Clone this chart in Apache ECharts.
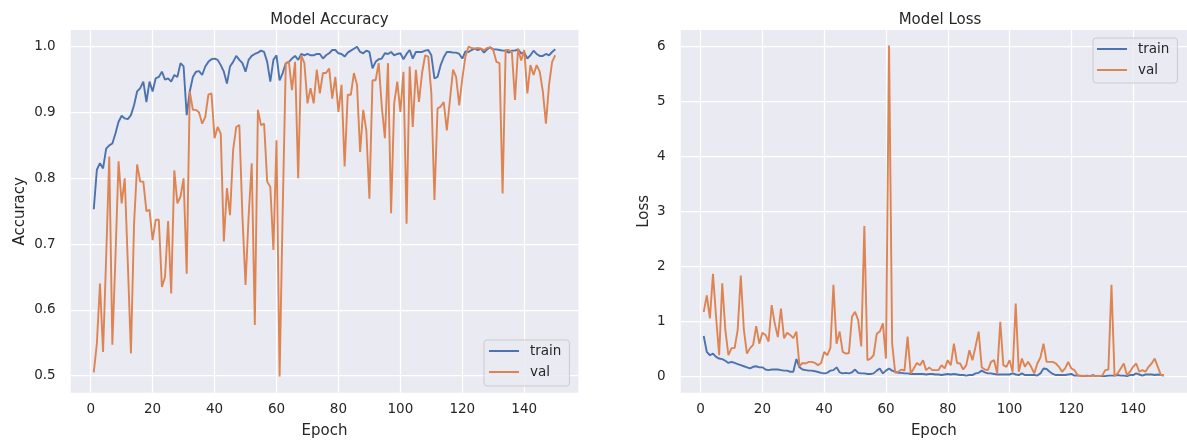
<!DOCTYPE html>
<html>
<head>
<meta charset="utf-8">
<script src="https://cdn.jsdelivr.net/npm/echarts@6/dist/echarts.min.js"></script>
<style>
  html, body { margin: 0; padding: 0; background: #ffffff; }
  #chart { width: 1187px; height: 444px; }
</style>
</head>
<body>
<div id="chart"></div>
<script>
// Training history over 150 epochs
const epochs = Array.from({ length: 150 }, (_, i) => i + 1);

const accTrain = [
  0.753, 0.813, 0.823, 0.815, 0.845, 0.850, 0.853, 0.868, 0.886, 0.895,
  0.891, 0.890, 0.896, 0.911, 0.932, 0.937, 0.947, 0.916, 0.947, 0.932,
  0.952, 0.954, 0.962, 0.950, 0.952, 0.947, 0.957, 0.954, 0.975, 0.970,
  0.896, 0.932, 0.954, 0.962, 0.963, 0.957, 0.970, 0.977, 0.981, 0.982,
  0.980, 0.972, 0.962, 0.944, 0.970, 0.977, 0.986, 0.980, 0.975, 0.962,
  0.980, 0.986, 0.989, 0.991, 0.994, 0.992, 0.977, 0.947, 0.980, 0.987,
  0.949, 0.960, 0.975, 0.977, 0.982, 0.986, 0.980, 0.989, 0.987, 0.989,
  0.987, 0.987, 0.989, 0.989, 0.982, 0.987, 0.990, 0.995, 0.995, 0.990,
  0.989, 0.985, 0.991, 0.994, 0.997, 1.000, 0.992, 0.990, 0.994, 0.992,
  0.967, 0.977, 0.981, 0.982, 0.990, 0.989, 0.992, 0.987, 0.989, 0.990,
  0.981, 0.989, 0.995, 0.982, 0.992, 0.992, 0.992, 0.994, 0.995, 0.987,
  0.952, 0.954, 0.972, 0.984, 0.992, 0.992, 0.991, 0.991, 0.989, 0.982,
  0.993, 0.992, 0.995, 0.997, 0.995, 0.997, 0.991, 0.996, 0.999, 0.996,
  0.996, 0.995, 0.994, 0.994, 0.991, 0.994, 0.994, 0.996, 0.990, 0.991,
  0.982, 0.987, 0.994, 0.989, 0.986, 0.986, 0.989, 0.987, 0.992, 0.996
];

const accVal = [
  0.505, 0.549, 0.640, 0.536, 0.680, 0.833, 0.547, 0.680, 0.826, 0.762,
  0.800, 0.670, 0.534, 0.730, 0.821, 0.795, 0.795, 0.750, 0.752, 0.706,
  0.737, 0.737, 0.635, 0.650, 0.735, 0.625, 0.812, 0.762, 0.772, 0.800,
  0.655, 0.932, 0.904, 0.904, 0.900, 0.883, 0.893, 0.927, 0.929, 0.861,
  0.878, 0.868, 0.704, 0.785, 0.744, 0.843, 0.878, 0.881, 0.742, 0.638,
  0.742, 0.823, 0.577, 0.904, 0.881, 0.883, 0.795, 0.787, 0.691, 0.858,
  0.499, 0.750, 0.975, 0.977, 0.934, 0.977, 0.800, 0.987, 0.975, 0.914,
  0.937, 0.914, 0.965, 0.929, 0.960, 0.960, 0.967, 0.921, 0.954, 0.901,
  0.942, 0.818, 0.927, 0.927, 0.960, 0.942, 0.840, 0.904, 0.873, 0.769,
  0.949, 0.949, 0.975, 0.909, 0.861, 0.975, 0.747, 0.914, 0.947, 0.901,
  0.962, 0.731, 0.970, 0.878, 0.965, 0.916, 0.960, 0.987, 0.985, 0.929,
  0.767, 0.906, 0.909, 0.916, 0.873, 0.919, 0.965, 0.954, 0.911, 0.952,
  0.985, 1.000, 0.998, 0.997, 0.998, 0.997, 0.995, 0.998, 0.999, 0.995,
  0.977, 0.975, 0.777, 0.995, 0.995, 0.992, 0.919, 0.997, 0.979, 0.995,
  0.929, 0.972, 0.957, 0.972, 0.962, 0.932, 0.883, 0.942, 0.977, 0.987
];

const lossTrain = [
  0.74, 0.45, 0.39, 0.42, 0.36, 0.33, 0.32, 0.29, 0.25, 0.27,
  0.25, 0.23, 0.21, 0.19, 0.17, 0.15, 0.18, 0.19, 0.17, 0.17,
  0.13, 0.12, 0.13, 0.13, 0.13, 0.12, 0.11, 0.11, 0.09, 0.09,
  0.32, 0.17, 0.13, 0.12, 0.11, 0.11, 0.10, 0.085, 0.07, 0.06,
  0.07, 0.11, 0.12, 0.17, 0.08, 0.06, 0.07, 0.06, 0.08, 0.13,
  0.07, 0.06, 0.06, 0.05, 0.05, 0.06, 0.11, 0.15, 0.06, 0.11,
  0.15, 0.11, 0.09, 0.07, 0.07, 0.06, 0.06, 0.05, 0.05, 0.05,
  0.05, 0.05, 0.04, 0.05, 0.05, 0.04, 0.04, 0.03, 0.04, 0.05,
  0.04, 0.05, 0.04, 0.03, 0.03, 0.02, 0.03, 0.03, 0.06, 0.07,
  0.11, 0.08, 0.06, 0.06, 0.05, 0.04, 0.04, 0.04, 0.04, 0.04,
  0.06, 0.04, 0.03, 0.06, 0.03, 0.03, 0.03, 0.03, 0.02, 0.06,
  0.15, 0.14, 0.09, 0.05, 0.03, 0.03, 0.03, 0.03, 0.04, 0.05,
  0.02, 0.02, 0.02, 0.01, 0.02, 0.01, 0.03, 0.01, 0.01, 0.01,
  0.01, 0.02, 0.02, 0.02, 0.03, 0.02, 0.02, 0.01, 0.03, 0.03,
  0.06, 0.04, 0.02, 0.04, 0.04, 0.04, 0.03, 0.04, 0.03, 0.02
];

const lossVal = [
  1.18, 1.48, 1.06, 1.87, 1.09, 0.39, 1.70, 0.85, 0.39, 0.52,
  0.52, 0.85, 1.84, 0.85, 0.42, 0.52, 0.58, 0.92, 0.60, 0.80,
  0.76, 0.64, 1.30, 0.97, 0.72, 1.24, 0.70, 0.80, 0.76, 0.70,
  0.82, 0.19, 0.25, 0.24, 0.27, 0.27, 0.25, 0.21, 0.25, 0.45,
  0.39, 0.52, 1.67, 0.60, 0.82, 0.45, 0.42, 0.43, 1.09, 1.18,
  1.03, 0.55, 2.74, 0.30, 0.33, 0.39, 0.78, 0.82, 0.97, 0.33,
  6.02, 0.60, 0.07, 0.09, 0.13, 0.11, 0.73, 0.06, 0.15, 0.25,
  0.21, 0.30, 0.12, 0.17, 0.12, 0.12, 0.12, 0.21, 0.15, 0.30,
  0.21, 0.60, 0.25, 0.24, 0.13, 0.21, 0.48, 0.30, 0.55, 0.82,
  0.17, 0.13, 0.12, 0.27, 0.30, 0.06, 1.00, 0.21, 0.18, 0.30,
  0.09, 1.33, 0.09, 0.33, 0.18, 0.27, 0.18, 0.06, 0.24, 0.35,
  0.60, 0.27, 0.27, 0.27, 0.24, 0.18, 0.09, 0.15, 0.27, 0.15,
  0.12, 0.03, 0.01, 0.02, 0.01, 0.01, 0.02, 0.01, 0.01, 0.02,
  0.12, 0.13, 1.67, 0.01, 0.06, 0.15, 0.24, 0.03, 0.09, 0.18,
  0.24, 0.09, 0.12, 0.09, 0.18, 0.24, 0.33, 0.18, 0.03, 0.03
];

const epochTicks = [0, 20, 40, 60, 80, 100, 120, 140];
const accTicks = [0.5, 0.6, 0.7, 0.8, 0.9, 1.0];
const lossTicks = [0, 1, 2, 3, 4, 5, 6];

const TEXT = '#262626';
const FONT = 'DejaVu Sans';
const BLUE = '#4C72B0';
const ORANGE = '#DD8452';
const PANEL = '#EAEAF2';

const pair = (ys) => epochs.map((e, i) => [e, ys[i]]);

function xAxisFor(gridIndex) {
  return {
    type: 'value', gridIndex,
    min: -6.45, max: 157.45,
    name: 'Epoch', nameLocation: 'middle', nameGap: 31,
    nameTextStyle: { color: TEXT, fontFamily: FONT, fontSize: 15 },
    axisLine: { show: false },
    axisTick: { show: false, customValues: epochTicks },
    axisLabel: { customValues: epochTicks, color: TEXT, fontFamily: FONT, fontSize: 13.5, margin: 10 },
    splitLine: { show: true, lineStyle: { color: '#ffffff', width: 1.25 } }
  };
}

function yAxisFor(gridIndex, name, min, max, ticks, fmt, gap) {
  return {
    type: 'value', gridIndex, min, max,
    name, nameLocation: 'middle', nameGap: gap, nameRotate: 90,
    nameTextStyle: { color: TEXT, fontFamily: FONT, fontSize: 15 },
    axisLine: { show: false },
    axisTick: { show: false, customValues: ticks },
    axisLabel: { customValues: ticks, formatter: fmt, color: TEXT, fontFamily: FONT, fontSize: 13.5, margin: 15 },
    splitLine: { show: true, lineStyle: { color: '#ffffff', width: 1.25 } }
  };
}

function lineSeries(name, data, color, axisIndex) {
  return {
    type: 'line', name, data: pair(data),
    xAxisIndex: axisIndex, yAxisIndex: axisIndex,
    showSymbol: false, symbol: 'none',
    lineStyle: { color, width: 1.9 },
    itemStyle: { color },
    emphasis: { disabled: true },
    clip: true
  };
}

const legendBase = {
  orient: 'vertical',
  icon: 'rect',
  itemWidth: 30, itemHeight: 2,
  itemGap: 7,
  backgroundColor: 'rgba(234,234,242,0.8)',
  borderColor: '#cccccc', borderWidth: 1, borderRadius: 3,
  textStyle: { color: TEXT, fontFamily: FONT, fontSize: 13.5, lineHeight: 14, padding: [0, 0, 0, 6] }
};

const chart = echarts.init(document.getElementById('chart'), null, { renderer: 'canvas' });
chart.setOption({
  animation: false,
  backgroundColor: '#ffffff',
  title: [
    { text: 'Model Accuracy', left: 324.5, top: 8, textAlign: 'center',
      textStyle: { color: TEXT, fontFamily: FONT, fontSize: 15, fontWeight: 'normal' } },
    { text: 'Model Loss', left: 935, top: 8, textAlign: 'center',
      textStyle: { color: TEXT, fontFamily: FONT, fontSize: 15, fontWeight: 'normal' } }
  ],
  grid: [
    { left: 70.7, top: 30, width: 507.6, height: 362.7, show: true,
      backgroundColor: PANEL, borderWidth: 0 },
    { left: 680.7, top: 30, width: 508.7, height: 362.7, show: true,
      backgroundColor: PANEL, borderWidth: 0 }
  ],
  xAxis: [xAxisFor(0), xAxisFor(1)],
  yAxis: [
    yAxisFor(0, 'Accuracy', 0.4742, 1.0254, accTicks, v => v.toFixed(1), 43),
    yAxisFor(1, 'Loss', -0.291, 6.304, lossTicks, v => String(v), 29)
  ],
  legend: [
    Object.assign({}, legendBase, {
      left: 484, top: 340, padding: [4, 8, 7, 5],
      data: ['train', 'val']
    }),
    Object.assign({}, legendBase, {
      left: 1093, top: 38, padding: [4, 8, 6, 4],
      data: ['train', 'val']
    })
  ],
  series: [
    lineSeries('train', accTrain, BLUE, 0),
    lineSeries('val', accVal, ORANGE, 0),
    lineSeries('train', lossTrain, BLUE, 1),
    lineSeries('val', lossVal, ORANGE, 1)
  ]
});
</script>
</body>
</html>
